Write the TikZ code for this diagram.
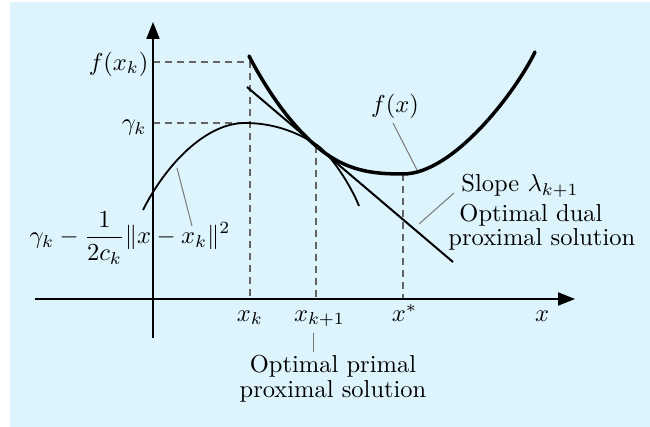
\RequirePackage{fix-cm}
\documentclass[tikz,border=0pt]{standalone}
\usetikzlibrary{arrows.meta}
\definecolor{bgcol}{RGB}{222,244,253}
\definecolor{dashcol}{RGB}{100,100,100}
\definecolor{leadcol}{RGB}{120,120,120}
\begin{document}
\begin{tikzpicture}[x=1pt,y=-1pt,
  lbl/.style={font=\fontsize{10}{10}\selectfont, scale=2.45, inner sep=0pt},
  axis/.style={line width=2pt, -{Triangle[length=17pt,width=13pt]}},
  guide/.style={dashcol, line width=1.1pt, dash pattern=on 7pt off 5pt},
  leader/.style={leadcol, line width=1pt},
  fcurve/.style={line width=3.5pt, line cap=round},
  pcurve/.style={line width=1.8pt},
  tline/.style={line width=2pt}]
\useasboundingbox (0,0) rectangle (650,427);
\fill[bgcol] (10,2) rectangle (650,427);

% key points
\coordinate (ybot) at (153,338);
\coordinate (ytop) at (153,22);
\coordinate (xleft) at (35,299);
\coordinate (xright) at (575,299);
\coordinate (Fk) at (153,62);
\coordinate (Gk) at (153,123);
\coordinate (Pk) at (250,62);
\coordinate (Pg) at (250,123);
\coordinate (Xk) at (250,299);
\coordinate (T) at (316,146);
\coordinate (Xk1) at (316,299);
\coordinate (M) at (403,174);
\coordinate (Xs) at (403,299);

% dashed guides
\draw[guide] (Fk) -- (Pk) -- (Xk);
\draw[guide] (Gk) -- (Pg);
\draw[guide] (T) -- (Xk1);
\draw[guide] (M) -- (Xs);

% axes
\draw[axis] (ybot) -- (ytop);
\draw[axis] (xleft) -- (xright);

% parabola
\coordinate (Q0) at (143,210);
\coordinate (Qp) at (245,123);
\coordinate (Qt) at (317,145);
\coordinate (Q1) at (359,206);
\draw[pcurve] (Q0) .. controls (165,166) and (205,123) .. (Qp)
  .. controls (269,123) and (293,129.4) .. (Qt)
  .. controls (331,154.8) and (351,185.6) .. (Q1);

% tangent line
\coordinate (Ta) at (247,87);
\coordinate (Tb) at (453,262);
\draw[tline] (Ta) -- (Tb);

% f curve
\coordinate (F0) at (249,56);
\coordinate (F1) at (535,52);
\draw[fcurve] (F0) .. controls (271,98) and (294,127) .. (T)
  .. controls (346,171.5) and (373,174) .. (M)
  .. controls (453,174) and (515,93) .. (F1);

% labels
\node[lbl, anchor=east] (lfxk) at (149,64) {$f(x_k)$};
\node[lbl, anchor=east] (lgk) at (147,128) {$\gamma_k$};
\node[lbl] (lpar) at (130,238) {$\displaystyle \gamma_k-\frac{1}{2c_k}\|x-x_k\|^2$};
\node[lbl, anchor=base] (lxk) at (250,321) {$x_k$};
\node[lbl, anchor=base] (lxk1) at (319.5,321) {$x_{k+1}$};
\node[lbl, anchor=base] (lxs) at (404.5,321) {$x^*$};
\node[lbl, anchor=base] (lx) at (542,321) {$x$};
\node[lbl] (lfx) at (395,106) {$f(x)$};
\node[lbl, anchor=base west] (lslope) at (461,192) {Slope $\lambda_{k+1}$};
\node[lbl, anchor=base west] (ldual1) at (459,222) {Optimal dual};
\node[lbl, anchor=base west] (ldual2) at (448,246) {proximal solution};
\node[lbl, anchor=north, align=center] (lprimal) at (333,355) {Optimal primal\\proximal solution};

% leaders
\coordinate (a1) at (192,226);
\coordinate (a2) at (177,168);
\draw[leader] (a1) -- (a2);
\coordinate (b1) at (393,123);
\coordinate (b2) at (417,170);
\draw[leader] (b1) -- (b2);
\coordinate (c1) at (454,193);
\coordinate (c2) at (419,224);
\draw[leader] (c1) -- (c2);
\coordinate (d1) at (313,333);
\coordinate (d2) at (313,352);
\draw[leader] (d1) -- (d2);
\end{tikzpicture}
\end{document}
